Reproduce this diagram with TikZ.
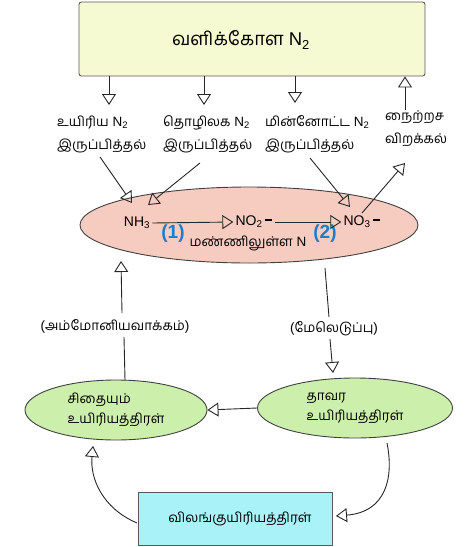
\documentclass[tikz,border=0pt]{standalone}
\usepackage{fontspec}
\setmainfont{Liberation Sans}
\newfontfamily\ta[Script=Tamil]{Hind Madurai}
\usetikzlibrary{arrows.meta,shapes.geometric}
\definecolor{topfill}{HTML}{F5FAD2}
\definecolor{soilfill}{HTML}{F6CBC0}
\definecolor{greenfill}{HTML}{CCF0AC}
\definecolor{cyanfill}{HTML}{A8F2F8}
\definecolor{numblue}{HTML}{1E7CC8}
\begin{document}
\begin{tikzpicture}[x=1pt,y=-1pt,
  arr/.style={-{Triangle[open,length=11pt,width=14pt,line width=0.9pt]}, line width=0.9pt, draw=black!85},
  ln/.style={line width=0.9pt, draw=black!85},
  lbl/.style={font=\fontsize{13.5}{23}\selectfont, align=left, inner sep=1pt, anchor=west},
  chem/.style={font=\fontsize{14}{16}\selectfont, inner sep=2pt},
  num/.style={font=\fontsize{19}{22}\selectfont\bfseries, text=numblue, inner sep=1pt},
  ell/.style={ellipse, draw=black!75, line width=0.9pt, inner sep=0pt}]
\useasboundingbox (0,0) rectangle (474,547);
% atmosphere box
\node[draw=gray!70!black, line width=0.9pt, fill=topfill, rounded corners=2.5pt,
      minimum width=346pt, minimum height=74pt, inner sep=0pt] (atm) at (252,39) {};
\node[font=\fontsize{18.5}{22}\selectfont, inner sep=0pt] (atmtxt) at (241,40) {{\ta வளிக்கோள} N\textsubscript{2}};
% arrows from/to atmosphere
\coordinate (a1) at (109,105);
\coordinate (a2) at (204,105);
\coordinate (a3) at (295,103);
\coordinate (a4) at (405,110);
\draw[arr] (atm.south -| a1) -- (a1);
\draw[arr] (atm.south -| a2) -- (a2);
\draw[arr] (atm.south -| a3) -- (a3);
\draw[arr] (a4) -- (atm.south -| a4);
% labels
\node[lbl] (bio) at (56,134) {{\ta உயிரிய} N\textsubscript{2}\\{\ta இருப்பித்தல்}};
\node[lbl] (ind) at (162,134) {{\ta தொழிலக} N\textsubscript{2}\\{\ta இருப்பித்தல்}};
\node[lbl] (ltn) at (264,134) {{\ta மின்னோட்ட} N\textsubscript{2}\\{\ta இருப்பித்தல்}};
\node[lbl] (den) at (384,129) {{\ta நைற்றச}\\{\ta விறக்கல்}};
% soil ellipse
\node[ell, fill=soilfill, minimum width=338pt, minimum height=76pt] (soil) at (249,225) {};
\node[chem] (nh3) at (137,223) {NH\textsubscript{3}};
\node[chem] (no2) at (254,222) {NO\textsubscript{2}\hspace{3pt}\raisebox{0.6ex}{\rule{7pt}{2pt}}};
\node[chem] (no3) at (362,222) {NO\textsubscript{3}\hspace{3pt}\raisebox{0.6ex}{\rule{7pt}{2pt}}};
\node[num] (n1) at (173,234) {(1)};
\node[num] (n2) at (325,234) {(2)};
\node[font=\fontsize{13.5}{16}\selectfont, inner sep=1pt] (soiln) at (248,243) {{\ta மண்ணிலுள்ள} N};
\draw[arr] (nh3.east) -- (no2.west);
\draw[arr] (no2.east) -- (no3.west);
% incoming fixation lines
\coordinate (t1) at (132,203);
\coordinate (t2) at (148,205);
\coordinate (t3) at (350,207);
\coordinate (t4) at (405,163);
\coordinate (s1) at (100,157);
\coordinate (s2) at (200,163);
\coordinate (s3) at (310,158);
\coordinate (s4) at (362,213);
\draw[arr] (s1) -- (t1);
\draw[arr] (s2) -- (t2);
\draw[arr] (s3) -- (t3);
\draw[arr] (s4) -- (t4);
% green ellipses
\node[ell, fill=greenfill, minimum width=182pt, minimum height=60pt, align=left,
      font=\fontsize{13.5}{20}\selectfont] (decay) at (116,410) {{\ta சிதையும்}\\{\ta உயிரியத்திரள்}};
\node[ell, fill=greenfill, minimum width=195pt, minimum height=60pt, align=left,
      font=\fontsize{13.5}{20}\selectfont] (plant) at (355,408) {{\ta தாவர}\\{\ta உயிரியத்திரள்}};
% ammonification
\node[font=\fontsize{13.5}{16}\selectfont, inner sep=1pt] (amm) at (115,326) {({\ta அம்மோனியவாக்கம்})};
\coordinate (u1) at (125,380);
\coordinate (u2) at (122,313);
\coordinate (u3) at (121,261);
\draw[ln] (u1) -- (124,337);
\draw[arr] (u2) -- (u3);
% uptake
\node[font=\fontsize{13.5}{16}\selectfont, inner sep=1pt] (upt) at (334,329) {({\ta மேலெடுப்பு})};
\coordinate (v1) at (325,268);
\coordinate (v2) at (329,317);
\coordinate (v3) at (330,339);
\coordinate (v4) at (333,373);
\draw[ln] (v1) -- (v2);
\draw[arr] (v3) -- (v4);
% plant -> decay
\draw[arr] (plant.west) -- (decay.east);
% animal box
\node[draw=gray!70!black, line width=0.9pt, fill=cyanfill, minimum width=194pt, minimum height=53pt,
      inner sep=0pt, font=\fontsize{13.5}{16}\selectfont] (animal) at (235,518.5) {\hspace{10pt}{\ta விலங்குயிரியத்திரள்}};
\coordinate (p1) at (387,443);
\coordinate (p2) at (336,516);
\draw[arr] (p1) .. controls (394,478) and (386,512) .. (p2);
\coordinate (q1) at (137,523);
\coordinate (q2) at (93,446);
\draw[arr] (q1) .. controls (102,508) and (90,478) .. (q2);
\end{tikzpicture}
\end{document}
